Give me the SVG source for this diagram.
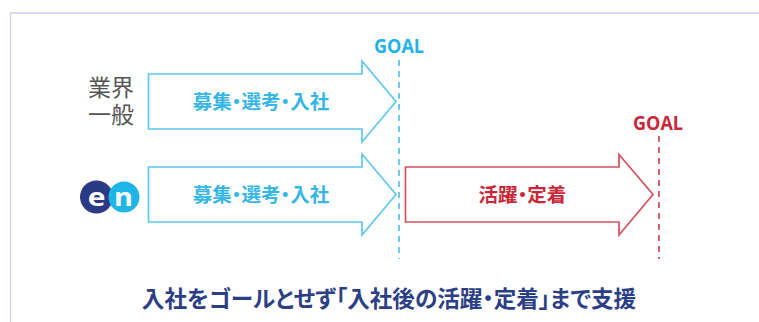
<svg xmlns="http://www.w3.org/2000/svg" width="759" height="322" viewBox="0 0 759 322">
<style>
.jp{font-family:"Noto Sans CJK JP","Noto Sans",sans-serif;font-feature-settings:"palt";text-anchor:middle}
.lbl{font-size:19.5px;font-weight:700}
.goal{font-family:"Open Sans","Liberation Sans",sans-serif;font-weight:700;font-size:20px;text-anchor:middle}
.logo{font-family:"Open Sans",sans-serif;font-weight:700;font-size:25px;text-anchor:middle;fill:#fff}
.ar{fill:#fff;stroke-width:1.7;stroke-linejoin:miter}
.c{stroke:#5cc8ee}.r{stroke:#d4505c}
.dash{stroke-width:2;stroke-dasharray:6 5;fill:none}
</style>
<rect width="759" height="322" fill="#fff"/>
<path d="M759 13H10.500V322" fill="none" stroke="#cdd0ea" stroke-width="1.3"/>
<g id="connectors">
<line class="dash" x1="399" y1="60" x2="399" y2="259" stroke="#6ccbec"/>
<line class="dash" x1="659" y1="136" x2="659" y2="259" stroke="#d3636f"/>
</g>
<g id="label-general"><text class="jp" font-size="23" fill="#555"><tspan x="111" y="96">業界</tspan><tspan x="111" y="123">一般</tspan></text></g>
<g id="logo-en">
<circle cx="96.500" cy="197" r="16.500" fill="#2a3a84"/>
<circle cx="124" cy="197" r="15.500" fill="#1fb5e6"/>
<text class="logo" x="0" y="0" transform="translate(96.500 205.500) scale(1.2 1)">e</text>
<text class="logo" x="0" y="0" transform="translate(123.500 205.500) scale(1.15 1)">n</text>
</g>
<g id="arrow-general">
<path class="ar c" d="M148.500 74H362V61L396 101.500L362 142V129H148.500Z"/>
<text class="jp lbl" x="261" y="108.500" fill="#35b6e6">募集・選考・入社</text>
</g>
<g id="goal-general"><text class="goal" x="399" y="52.500" textLength="50" lengthAdjust="spacingAndGlyphs" fill="#1fb2e6">GOAL</text></g>
<g id="arrow-en">
<path class="ar c" d="M148.500 167H362V154L396 194.500L362 235V222H148.500Z"/>
<text class="jp lbl" x="261" y="202" fill="#35b6e6">募集・選考・入社</text>
</g>
<g id="arrow-retention">
<path class="ar r" d="M405.500 167H619V154.500L653 194.500L619 235V222H405.500Z"/>
<text class="jp lbl" x="522.500" y="202" fill="#c9283a">活躍・定着</text>
</g>
<g id="goal-en"><text class="goal" x="658" y="129.500" textLength="50" lengthAdjust="spacingAndGlyphs" fill="#c9283a">GOAL</text></g>
<g id="caption"><text class="jp" x="389" y="307" font-size="22.600" font-weight="700" fill="#2c3f86">入社をゴールとせず「入社後の活躍・定着」まで支援</text></g>
</svg>
